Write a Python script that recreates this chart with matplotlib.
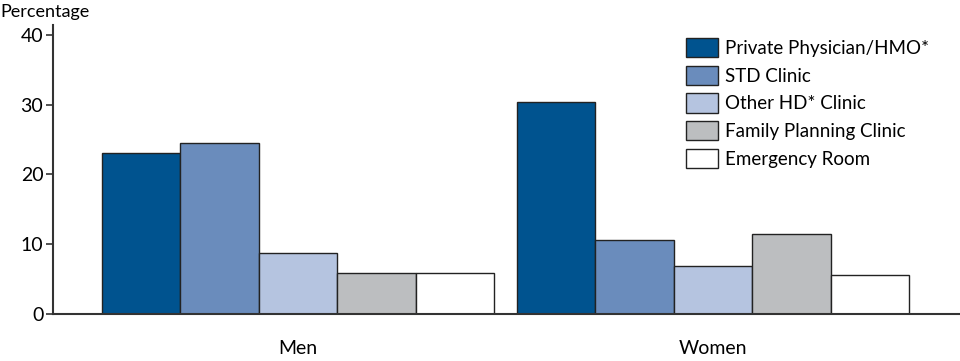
import matplotlib
matplotlib.use("Agg")
import matplotlib.pyplot as plt
import numpy as np

plt.rcParams['font.family'] = ['Lato', 'DejaVu Sans']

groups = ["Men", "Women"]
series = ["Private Physician/HMO*", "STD Clinic", "Other HD* Clinic",
          "Family Planning Clinic", "Emergency Room"]
values = {
    "Private Physician/HMO*": [23.1, 30.4],
    "STD Clinic": [24.5, 10.6],
    "Other HD* Clinic": [8.75, 6.9],
    "Family Planning Clinic": [5.9, 11.5],
    "Emergency Room": [5.9, 5.6],
}
colors = ["#00538F", "#6A8CBC", "#B5C4E0", "#BCBEC0", "#FFFFFF"]
yticks = [0, 10, 20, 30, 40]

fig = plt.figure(figsize=(9.6, 3.61), dpi=100)
ax = fig.add_axes([53/960, 47/361, (959-53)/960, (336-47)/361])

x = np.arange(len(groups))
w = 0.189
for i, s in enumerate(series):
    ax.bar(x + (i - 2) * w, values[s], width=w, color=colors[i],
           edgecolor="#222222", linewidth=1.0, label=s)

ax.set_xlim(-0.590, 1.593)
ax.set_ylim(0, 41.4)
ax.set_yticks(yticks)
ax.set_xticks(x)
ax.set_xticklabels(groups)
for sp in ["top", "right"]:
    ax.spines[sp].set_visible(False)
for sp in ["left", "bottom"]:
    ax.spines[sp].set_color("#333333")
    ax.spines[sp].set_linewidth(1.5)
ax.tick_params(axis='y', length=5, width=1.2, color="#333333", labelsize=14, pad=2)
ax.tick_params(axis='x', length=0, labelsize=14, pad=19)

fig.text(0.0, 1 - 12/361, "Percentage", fontsize=13, va="center", ha="left")

leg = ax.legend(loc="upper left", bbox_to_anchor=(686/960, 1 - 38/361),
                bbox_transform=fig.transFigure, frameon=False, fontsize=13.5,
                handlelength=1.7, handleheight=1.2, handletextpad=0.4,
                labelspacing=0.45, borderaxespad=0, borderpad=0)

fig.savefig("out.png", dpi=100)
